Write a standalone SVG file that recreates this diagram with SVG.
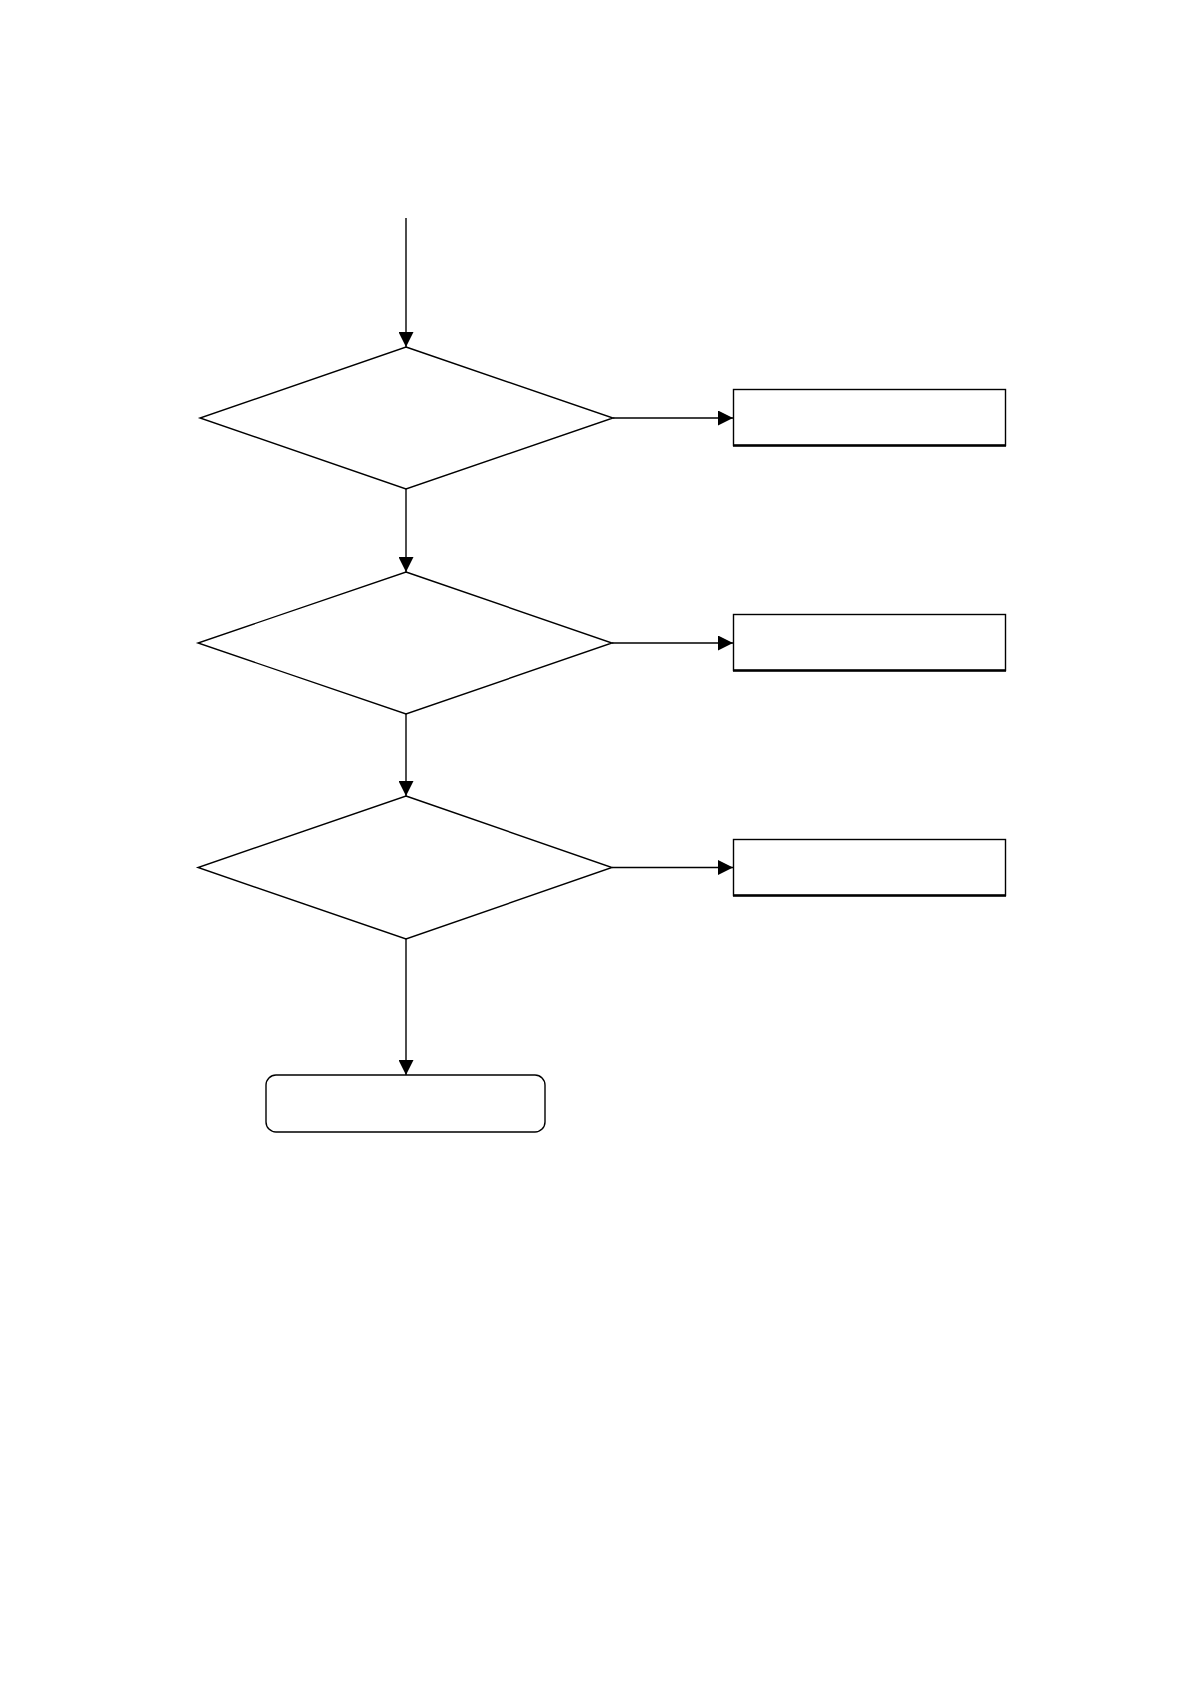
<svg xmlns="http://www.w3.org/2000/svg" width="1190" height="1684" viewBox="0 0 1190 1684">
<style>
.shape{fill:#fff;stroke:#000;stroke-width:1.4}
.edge{fill:none;stroke:#000;stroke-width:1.4}
.base{stroke:#000;stroke-width:2.4}
</style>
<defs>
<marker id="arr" viewBox="0 0 10 10" refX="10" refY="5" markerWidth="15" markerHeight="15" markerUnits="userSpaceOnUse" orient="auto">
<path d="M0,0 L10,5 L0,10 Z" fill="#000"/>
</marker>
</defs>
<rect width="1190" height="1684" fill="#fff"/>
<g id="connectors">
<line class="edge" x1="406" y1="218" x2="406" y2="347" marker-end="url(#arr)"/>
<line class="edge" x1="406" y1="489" x2="406" y2="572" marker-end="url(#arr)"/>
<line class="edge" x1="406" y1="714" x2="406" y2="796" marker-end="url(#arr)"/>
<line class="edge" x1="406" y1="939" x2="406" y2="1075" marker-end="url(#arr)"/>
<line class="edge" x1="613" y1="418" x2="733" y2="418" marker-end="url(#arr)"/>
<line class="edge" x1="612" y1="643" x2="733" y2="643" marker-end="url(#arr)"/>
<line class="edge" x1="612" y1="867.5" x2="733" y2="867.5" marker-end="url(#arr)"/>
</g>
<g id="decision1"><polygon class="shape" points="406,347 613,418 406,489 200,418"/></g>
<g id="decision2"><polygon class="shape" points="406,572 612,643 406,714 198,643"/></g>
<g id="decision3"><polygon class="shape" points="406,796 612,867.5 406,939 198,867.5"/></g>
<g id="box1"><rect class="shape" x="733.5" y="389.5" width="272" height="56"/><line class="base" x1="733" y1="445.5" x2="1006" y2="445.5"/></g>
<g id="box2"><rect class="shape" x="733.5" y="614.5" width="272" height="56"/><line class="base" x1="733" y1="670.5" x2="1006" y2="670.5"/></g>
<g id="box3"><rect class="shape" x="733.5" y="839.5" width="272" height="56"/><line class="base" x1="733" y1="895.5" x2="1006" y2="895.5"/></g>
<g id="end"><rect class="shape" x="266" y="1075" width="279" height="57" rx="10" ry="10"/></g>
</svg>
